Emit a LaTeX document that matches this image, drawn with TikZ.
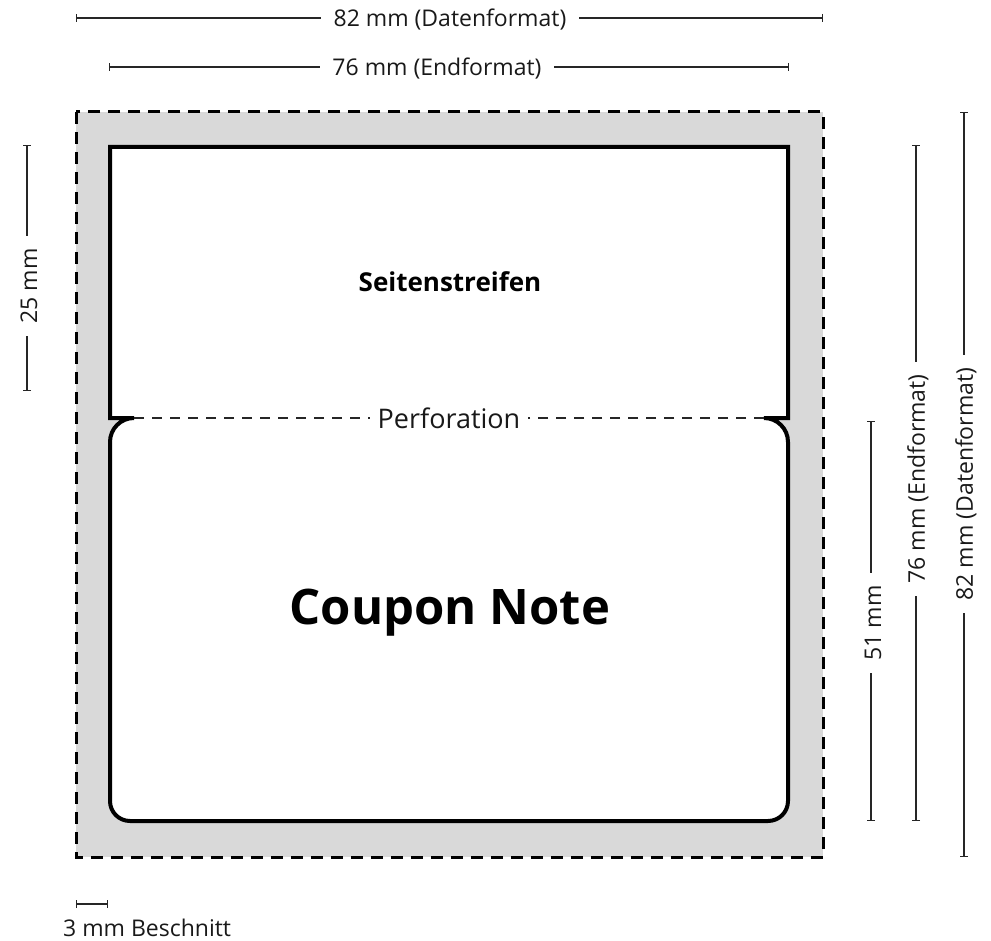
\documentclass[tikz,border=0pt]{standalone}
\usepackage{fontspec}
\setmainfont{Open Sans}
\usetikzlibrary{arrows.meta}
\definecolor{bleedgray}{HTML}{D9D9D9}
\tikzset{
  dimline/.style={line width=1.3pt, draw=black!85},
  barend/.style={{Bar[width=8pt,line width=1.3pt]}-},
  lbl/.style={font=\fontsize{23}{27}\selectfont, inner xsep=12pt, inner ysep=2pt, text=black!90},
  trimline/.style={line width=4pt, draw=black, fill=white},
  bleedline/.style={line width=3pt, dash pattern=on 12pt off 8pt, draw=black},
  perfline/.style={line width=1.8pt, dash pattern=on 10pt off 8pt, draw=black!85},
}
\begin{document}
\begin{tikzpicture}[x=1pt,y=-1pt]
\useasboundingbox (0,0) rectangle (991,941);
% bleed area
\fill[bleedgray] (76,112) rectangle (823,857);
\draw[bleedline] (76,112) rectangle (823,857);
% trim shape
\draw[trimline, line join=miter]
  (110,147) -- (788,147) -- (788,418) -- (764,418)
  to[out=0,in=90] (788,442)
  -- (788,801) to[out=-90,in=0] (768,821)
  -- (130,821) to[out=180,in=-90] (110,801)
  -- (110,442) to[out=90,in=180] (134,418) -- (110,418) -- cycle;
% perforation
\node[lbl, font=\fontsize{27}{31}\selectfont, inner xsep=7pt] (perf) at (449,418) {Perforation};
\coordinate (pl) at (134,418);
\coordinate (pr) at (764,418);
\draw[perfline] (pl) -- (perf);
\draw[perfline] (pr) -- (perf);
% titles
\node[font=\bfseries\fontsize{26}{30}\selectfont] (seit) at (450,282) {Seitenstreifen};
\node[font=\bfseries\fontsize{49}{56}\selectfont] (coupon) at (450,613) {Coupon Note};
% top dimension 82
\node[lbl] (t82) at (450,20) {82 mm (Datenformat)};
\coordinate (a82l) at (76,18);
\coordinate (a82r) at (823,18);
\draw[dimline, barend] (a82l) -- (a82l -| t82.west);
\draw[dimline, barend] (a82r) -- (a82r -| t82.east);
% top dimension 76
\node[lbl] (t76) at (437,69) {76 mm (Endformat)};
\coordinate (a76l) at (109,67);
\coordinate (a76r) at (789,67);
\draw[dimline, barend] (a76l) -- (a76l -| t76.west);
\draw[dimline, barend] (a76r) -- (a76r -| t76.east);
% left 25 mm
\node[lbl, rotate=90] (t25) at (29,286) {25 mm};
\coordinate (a25t) at (27,145);
\coordinate (a25b) at (27,391);
\draw[dimline, barend] (a25t) -- (a25t |- t25.east);
\draw[dimline, barend] (a25b) -- (a25b |- t25.west);
% right 51 mm
\node[lbl, rotate=90] (t51) at (873,623) {51 mm};
\coordinate (a51t) at (871,421);
\coordinate (a51b) at (871,821);
\draw[dimline, barend] (a51t) -- (a51t |- t51.east);
\draw[dimline, barend] (a51b) -- (a51b |- t51.west);
% right 76 mm
\node[lbl, rotate=90] (tr76) at (918,479) {76 mm (Endformat)};
\coordinate (ar76t) at (916,145);
\coordinate (ar76b) at (916,821);
\draw[dimline, barend] (ar76t) -- (ar76t |- tr76.east);
\draw[dimline, barend] (ar76b) -- (ar76b |- tr76.west);
% right 82 mm
\node[lbl, rotate=90] (tr82) at (966,484) {82 mm (Datenformat)};
\coordinate (ar82t) at (964,112);
\coordinate (ar82b) at (964,857);
\draw[dimline, barend] (ar82t) -- (ar82t |- tr82.east);
\draw[dimline, barend] (ar82b) -- (ar82b |- tr82.west);
% bleed 3 mm
\coordinate (b3l) at (76,904);
\coordinate (b3r) at (108,904);
\draw[dimline, {Bar[width=8pt,line width=1.3pt]}-{Bar[width=8pt,line width=1.3pt]}] (b3l) -- (b3r);
\node[lbl, inner xsep=0pt, anchor=west] (t3) at (63,928) {3 mm Beschnitt};
\end{tikzpicture}
\end{document}
